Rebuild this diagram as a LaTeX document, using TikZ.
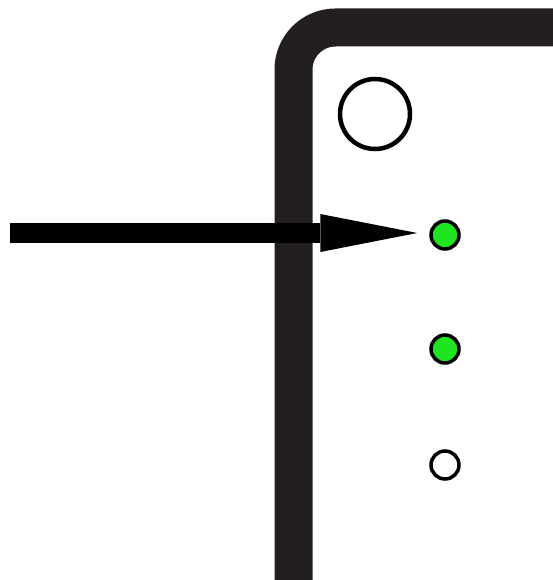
\documentclass[tikz,border=0pt]{standalone}
\usetikzlibrary{arrows.meta}
\definecolor{framegray}{RGB}{35,31,32}
\definecolor{ledgreen}{RGB}{30,230,30}
\tikzset{
  led/.style={circle, draw=black, line width=3.5pt, minimum size=28pt, inner sep=0pt},
  bigled/.style={circle, draw=black, line width=4.5pt, minimum size=70pt, inner sep=0pt, fill=white},
  pointer/.style={line width=20pt, -{Triangle[length=97pt, width=38pt, line width=0pt]}, black},
  panel/.style={draw=framegray, line width=38pt, rounded corners=42pt}
}
\begin{document}
\begin{tikzpicture}[x=1pt, y=-1pt]
\useasboundingbox (0,0) rectangle (553,580);
\clip (0,0) rectangle (553,580);
\fill[white] (0,0) rectangle (553,580);
% frame
\draw[panel] (293.5,640) -- (293.5,27.5) -- (640,27.5);
% indicators
\node[bigled] (big) at (375,114) {};
\node[led, fill=ledgreen] (d1) at (445,235) {};
\node[led, fill=ledgreen] (d2) at (445,349) {};
\node[led, fill=white] (d3) at (445,465) {};
% arrow
\coordinate (start) at (10,233);
\draw[pointer, shorten >=12pt] (start) -- (start -| d1.west);
\end{tikzpicture}
\end{document}
